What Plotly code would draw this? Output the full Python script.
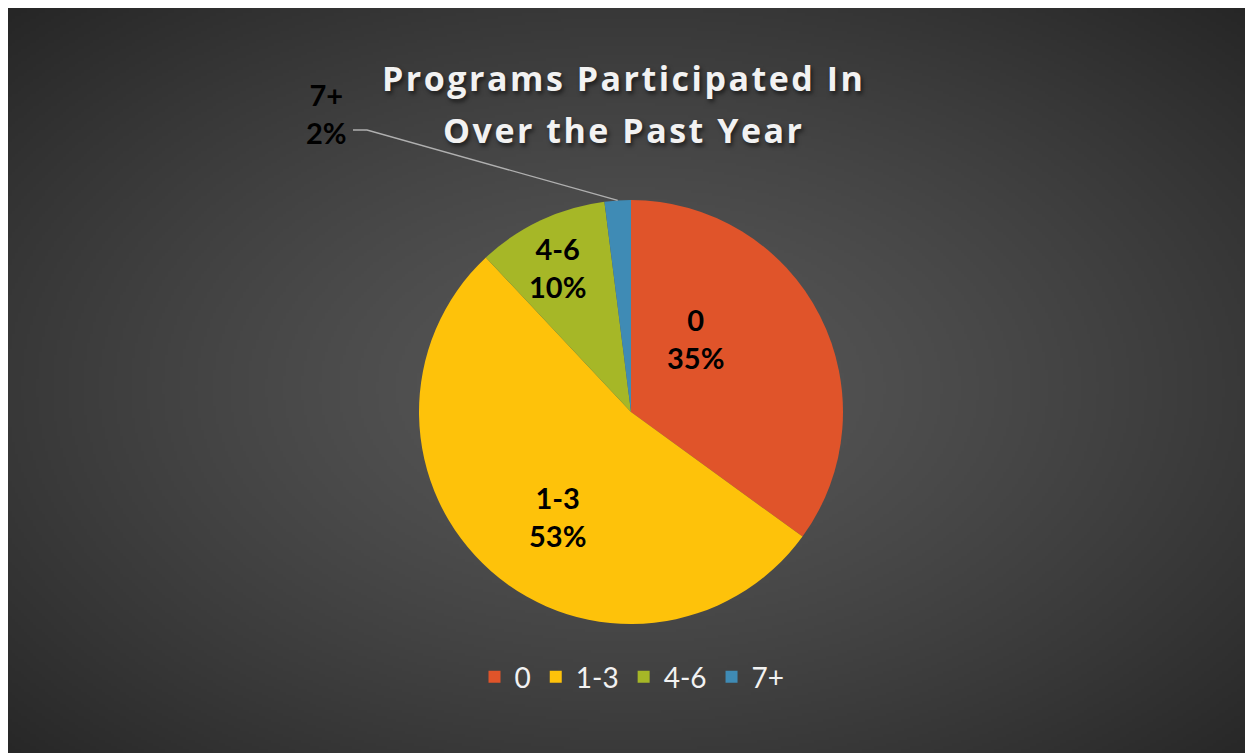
import base64, struct, zlib, math
import numpy as np
import plotly.graph_objects as go

# ---- data ----
categories = ["0", "1-3", "4-6", "7+"]
values = [35, 53, 10, 2]
colors = ["#E0542A", "#FEC20A", "#A6B727", "#3F8BB5"]
title_lines = ["Programs Participated In", "Over the Past Year"]

W, H = 1245, 760
OFF = 8  # page body margin


def px(x):
    return (x - OFF) / W


def py(y):
    return 1 - (y - OFF) / H


# ---- background radial gradient as PNG ----
def make_png(w, h):
    yy, xx = np.mgrid[0:h, 0:w].astype(float)
    cx, cy = (w - 1) / 2, (h - 1) * 0.5
    d = np.sqrt(((xx - cx) / (w / 2)) ** 2 + ((yy - cy) / (h / 2)) ** 2) / math.sqrt(2)
    d = np.clip(d, 0, 1) ** 1.3
    g = (0x58 - d * (0x58 - 0x26)).astype(np.uint8)
    raw = b"".join(b"\x00" + g[r].tobytes() for r in range(h))

    def chunk(t, data):
        c = struct.pack(">I", len(data)) + t + data
        return c + struct.pack(">I", zlib.crc32(t + data) & 0xFFFFFFFF)

    png = b"\x89PNG\r\n\x1a\n"
    png += chunk(b"IHDR", struct.pack(">IIBBBBB", w, h, 8, 0, 0, 0, 0))
    png += chunk(b"IDAT", zlib.compress(raw, 9))
    png += chunk(b"IEND", b"")
    return "data:image/png;base64," + base64.b64encode(png).decode()


bg = make_png(415, 253)

# pie geometry (page pixels)
CX, CY, R = 631, 412, 212

fig = go.Figure()
fig.add_trace(go.Pie(
    labels=categories, values=values, sort=False, direction="clockwise", rotation=0,
    marker=dict(colors=colors, line=dict(width=0)),
    textinfo="none", hoverinfo="label+percent",
    domain=dict(x=[px(CX - R), px(CX + R)], y=[py(CY + R), py(CY - R)]),
))

total = sum(values)
pct = [f"{round(v / total * 100)}%" for v in values]

label_pos = [(695, 338), (557, 516), (557, 267), (326, 113)]
annotations = []
for cat, p, (lx, ly) in zip(categories, pct, label_pos):
    annotations.append(dict(
        x=px(lx), y=py(ly), xref="paper", yref="paper", showarrow=False,
        text=f"<b>{cat}<br>{p}</b>", align="center",
        font=dict(family="Lato, Carlito, sans-serif", size=29, color="#000000"),
        xanchor="center", yanchor="middle",
    ))

for line, ty in zip(title_lines, [78, 130]):
    annotations.append(dict(
        x=px(623), y=py(ty), xref="paper", yref="paper", showarrow=False,
        text=f"<b><span style=\"letter-spacing:2.5px\">{line}</span></b>",
        xanchor="center", yanchor="middle",
        font=dict(family="Open Sans, sans-serif", size=34, color="#F2F2F2",
                  shadow="2px 3px 4px rgba(0,0,0,0.55)"),
    ))

# leader line for the smallest slice, from its arc midpoint
frac_mid = (sum(values[:-1]) + values[-1] / 2) / total
th = 2 * math.pi * frac_mid
ax_, ay_ = CX + R * math.sin(th), CY - R * math.cos(th)
path = f"M {px(353)},{py(130)} L {px(367)},{py(130)} L {px(ax_)},{py(ay_)}"

fig.update_layout(
    width=W, height=H,
    margin=dict(l=0, r=0, t=0, b=0),
    paper_bgcolor="#3a3a3a", plot_bgcolor="rgba(0,0,0,0)",
    images=[dict(source=bg, xref="paper", yref="paper", x=0, y=1, sizex=1, sizey=1,
                 xanchor="left", yanchor="top", sizing="stretch", layer="below")],
    annotations=annotations,
    shapes=[dict(type="path", path=path, xref="paper", yref="paper",
                 line=dict(color="#B0B0B0", width=1.4))],
    showlegend=True,
    legend=dict(orientation="h", x=px(632), xanchor="center", y=py(677), yanchor="middle",
                font=dict(family="Lato, Carlito, sans-serif", size=28, color="#F2F2F2"),
                bgcolor="rgba(0,0,0,0)", itemclick=False),
)

fig.write_html("out.html")
